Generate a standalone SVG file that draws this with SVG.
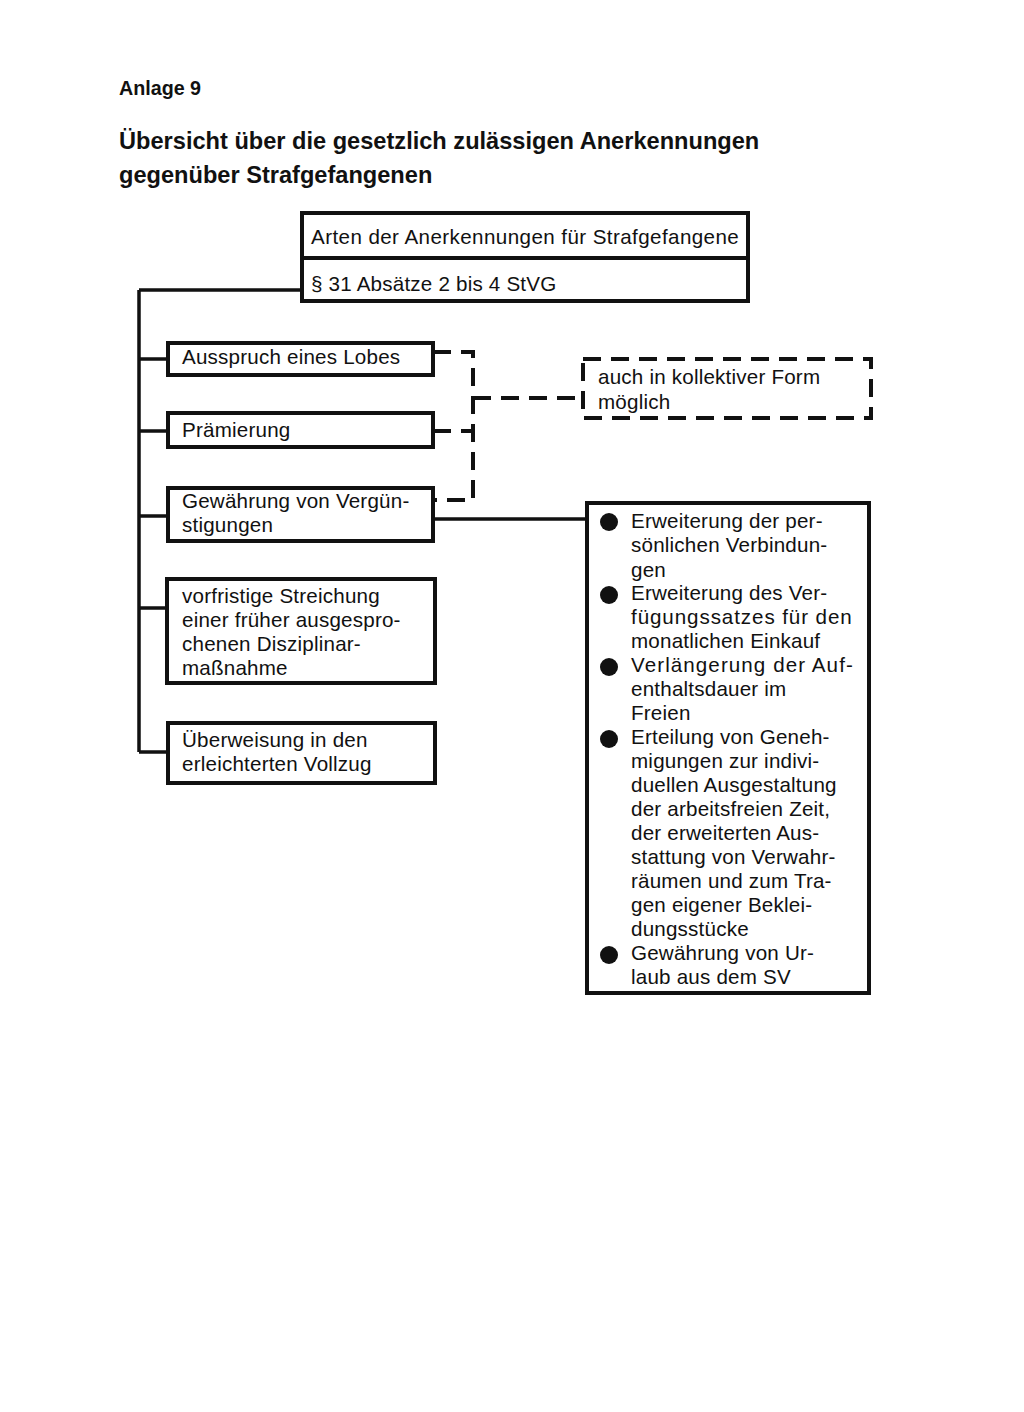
<svg xmlns="http://www.w3.org/2000/svg" width="1024" height="1412" viewBox="0 0 1024 1412">
<style>
.t{font-family:"Liberation Sans",Arial,sans-serif;font-size:20.6px;letter-spacing:0.2px;fill:#111}
.h{font-family:"Liberation Sans",Arial,sans-serif;font-weight:bold;fill:#111}
.box{fill:none;stroke:#111;stroke-width:4}
.ln{fill:none;stroke:#111;stroke-width:3.5}
.dash{fill:none;stroke:#111;stroke-width:4;stroke-dasharray:18 10}
</style>
<rect width="1024" height="1412" fill="#fff"/>
<g id="title">
<text class="h" x="119" y="95" font-size="19.7">Anlage 9</text>
<text class="h" x="119" y="149" font-size="23.6">Übersicht über die gesetzlich zulässigen Anerkennungen</text>
<text class="h" x="119" y="183" font-size="23.6">gegenüber Strafgefangenen</text>
</g>
<g id="connectors">
<path class="ln" d="M139 290 H302 M139 290 V752 M139 359 H168 M139 431 H168 M139 516 H168 M139 608 H167 M139 752 H168"/>
<path class="ln" d="M433 519 H587"/>
<path class="dash" d="M433 352 H473 V500 H433"/>
<path class="dash" d="M433 431 H473"/>
<path class="dash" d="M473 398 H583"/>
</g>
<g id="header">
<rect class="box" x="302" y="213" width="446" height="88"/>
<line class="box" x1="302" y1="258" x2="748" y2="258"/>
<text class="t" x="311" y="244" textLength="428">Arten der Anerkennungen für Strafgefangene</text>
<text class="t" x="311" y="291">§ 31 Absätze 2 bis 4 StVG</text>
</g>
<g id="n1">
<rect class="box" x="168" y="343" width="265" height="32"/>
<text class="t" x="182" y="364">Ausspruch eines Lobes</text>
</g>
<g id="n2">
<rect class="box" x="168" y="413" width="265" height="34"/>
<text class="t" x="182" y="437">Prämierung</text>
</g>
<g id="n3">
<rect class="box" x="168" y="488" width="265" height="53"/>
<text class="t" x="182" y="508">Gewährung von Vergün-</text>
<text class="t" x="182" y="532">stigungen</text>
</g>
<g id="n4">
<rect class="box" x="167" y="579" width="268" height="104"/>
<text class="t" x="182" y="603">vorfristige Streichung</text>
<text class="t" x="182" y="627">einer früher ausgespro-</text>
<text class="t" x="182" y="651">chenen Disziplinar-</text>
<text class="t" x="182" y="675">maßnahme</text>
</g>
<g id="n5">
<rect class="box" x="168" y="723" width="267" height="60"/>
<text class="t" x="182" y="747">Überweisung in den</text>
<text class="t" x="182" y="771">erleichterten Vollzug</text>
</g>
<g id="note">
<rect class="dash" x="583" y="359" width="288" height="59"/>
<text class="t" x="598" y="384">auch in kollektiver Form</text>
<text class="t" x="598" y="409">möglich</text>
</g>
<g id="list">
<rect class="box" x="587" y="503" width="282" height="490"/>
<circle cx="609" cy="522" r="9" fill="#111"/>
<circle cx="609" cy="595" r="9" fill="#111"/>
<circle cx="609" cy="667" r="9" fill="#111"/>
<circle cx="609" cy="739" r="9" fill="#111"/>
<circle cx="609" cy="955" r="9" fill="#111"/>
<text class="t" x="631" y="528">Erweiterung der per-</text>
<text class="t" x="631" y="552">sönlichen Verbindun-</text>
<text class="t" x="631" y="577">gen</text>
<text class="t" x="631" y="600">Erweiterung des Ver-</text>
<text class="t" x="631" y="624" textLength="221">fügungssatzes für den</text>
<text class="t" x="631" y="648">monatlichen Einkauf</text>
<text class="t" x="631" y="672" textLength="222">Verlängerung der Auf-</text>
<text class="t" x="631" y="696">enthaltsdauer im</text>
<text class="t" x="631" y="720">Freien</text>
<text class="t" x="631" y="744">Erteilung von Geneh-</text>
<text class="t" x="631" y="768">migungen zur indivi-</text>
<text class="t" x="631" y="792">duellen Ausgestaltung</text>
<text class="t" x="631" y="816">der arbeitsfreien Zeit,</text>
<text class="t" x="631" y="840">der erweiterten Aus-</text>
<text class="t" x="631" y="864">stattung von Verwahr-</text>
<text class="t" x="631" y="888">räumen und zum Tra-</text>
<text class="t" x="631" y="912">gen eigener Beklei-</text>
<text class="t" x="631" y="936">dungsstücke</text>
<text class="t" x="631" y="960">Gewährung von Ur-</text>
<text class="t" x="631" y="984">laub aus dem SV</text>
</g>
</svg>
